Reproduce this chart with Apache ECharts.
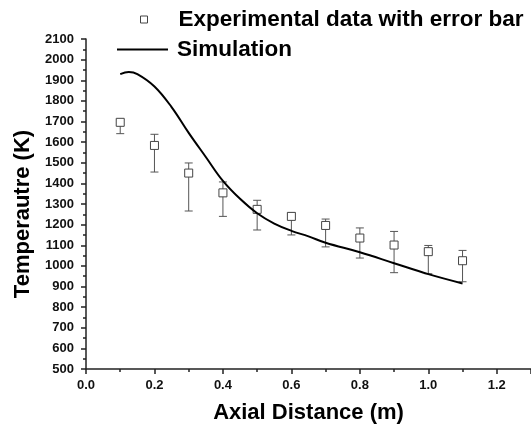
<!DOCTYPE html>
<html>
<head>
<meta charset="utf-8">
<script src="https://cdn.jsdelivr.net/npm/echarts@6/dist/echarts.min.js"></script>
<style>
    html, body { margin: 0; padding: 0; background: #fff; }
    #chart { width: 531px; height: 431px; }
</style>
</head>
<body>
<div id="chart"></div>
<script>
// experimental points with error bars
var expX    = [0.1, 0.2, 0.3, 0.4, 0.5, 0.6, 0.7, 0.8, 0.9, 1.0, 1.1];
var expT    = [1696, 1584, 1450, 1354, 1274, 1240, 1196, 1135, 1101, 1069, 1025];
var errHigh = [1709, 1638, 1499, 1407, 1318, 1257, 1227, 1184, 1167, 1099, 1075];
var errLow  = [1641, 1455, 1266, 1240, 1174, 1150, 1092, 1038, 967, 962, 923];

// simulation curve
var simX = [0.1, 0.125, 0.15, 0.2, 0.25, 0.3, 0.35, 0.4, 0.45, 0.5, 0.55, 0.6, 0.65, 0.7, 0.8, 0.9, 1.0, 1.1];
var simT = [1930, 1940, 1930, 1870, 1770, 1645, 1528, 1412, 1325, 1255, 1205, 1170, 1143, 1112, 1066, 1013, 960, 915];

var FONT = 'Liberation Sans, Arial, sans-serif';

var expData = expX.map(function (x, i) { return [x, expT[i]]; });
var errData = expX.map(function (x, i) { return [x, errLow[i], errHigh[i]]; });
var simData = simX.map(function (x, i) { return [x, simT[i]]; });

var myChart = echarts.init(document.getElementById('chart'), null, { renderer: 'canvas' });
var option = {
    animation: false,
    legend: [
        {
            data: ['Experimental data with error bar'],
            left: 140,
            top: 8,
            padding: 0,
            itemWidth: 7,
            itemHeight: 7,
            selectedMode: false,
            itemStyle: { borderWidth: 1, borderColor: '#444' },
            textStyle: { fontFamily: FONT, fontSize: 22.5, fontWeight: 'bold', color: '#000', padding: [0, 0, 0, 26] }
        },
        {
            data: [{ name: 'Simulation', icon: 'rect' }],
            left: 117,
            top: 38,
            padding: 0,
            itemWidth: 51,
            itemHeight: 2,
            selectedMode: false,
            textStyle: { fontFamily: FONT, fontSize: 22.5, fontWeight: 'bold', color: '#000', padding: [0, 0, 0, 4] }
        }
    ],
    grid: { left: 86, right: 0, top: 39, bottom: 62, containLabel: false },
    xAxis: {
        type: 'value',
        min: 0,
        max: 1.3,
        interval: 0.2,
        name: 'Axial Distance (m)',
        nameLocation: 'middle',
        nameGap: 33,
        nameTextStyle: { fontFamily: FONT, fontSize: 22, fontWeight: 'bold', color: '#000' },
        axisLine: { lineStyle: { color: '#222', width: 1.5 } },
        axisTick: { inside: false, length: 5, lineStyle: { color: '#222', width: 1.5 } },
        minorTick: { show: true, splitNumber: 2, length: 3, lineStyle: { color: '#222', width: 1.5 } },
        splitLine: { show: false },
        axisLabel: {
            margin: 10,
            fontFamily: FONT, fontSize: 13, fontWeight: 'bold', color: '#111',
            showMaxLabel: false,
            formatter: function (v) { return v.toFixed(1); }
        }
    },
    yAxis: {
        type: 'value',
        min: 500,
        max: 2100,
        interval: 100,
        name: 'Temperautre (K)',
        nameLocation: 'middle',
        nameGap: 48,
        nameTextStyle: { fontFamily: FONT, fontSize: 22, fontWeight: 'bold', color: '#000', padding: [0, 0, 0, -20] },
        axisLine: { show: true, lineStyle: { color: '#222', width: 1.5 } },
        axisTick: { show: true, inside: false, length: 5, lineStyle: { color: '#222', width: 1.5 } },
        minorTick: { show: true, splitNumber: 2, length: 3, lineStyle: { color: '#222', width: 1.5 } },
        splitLine: { show: false },
        axisLabel: {
            margin: 12, fontFamily: FONT, fontSize: 13, fontWeight: 'bold', color: '#111',
            formatter: function (v) { return String(v); }
        }
    },
    series: [
        {
            name: 'errorbar',
            type: 'custom',
            data: errData,
            encode: { x: 0, y: [1, 2] },
            z: 2,
            renderItem: function (params, api) {
                var x = api.value(0);
                var lo = api.coord([x, api.value(1)]);
                var hi = api.coord([x, api.value(2)]);
                var w = 4;
                var style = { stroke: '#555', lineWidth: 1 };
                return {
                    type: 'group',
                    children: [
                        { type: 'line', shape: { x1: lo[0], y1: lo[1], x2: hi[0], y2: hi[1] }, style: style },
                        { type: 'line', shape: { x1: lo[0] - w, y1: lo[1], x2: lo[0] + w, y2: lo[1] }, style: style },
                        { type: 'line', shape: { x1: hi[0] - w, y1: hi[1], x2: hi[0] + w, y2: hi[1] }, style: style }
                    ]
                };
            }
        },
        {
            name: 'Experimental data with error bar',
            type: 'scatter',
            data: expData,
            symbol: 'rect',
            symbolSize: 8,
            z: 3,
            itemStyle: { color: '#fff', borderColor: '#444', borderWidth: 1, opacity: 1 }
        },
        {
            name: 'Simulation',
            type: 'line',
            data: simData,
            smooth: 0.4,
            showSymbol: false,
            symbol: 'none',
            z: 4,
            lineStyle: { color: '#000', width: 2 },
            itemStyle: { color: '#000' }
        }
    ]
};
myChart.setOption(option);
</script>
</body>
</html>
